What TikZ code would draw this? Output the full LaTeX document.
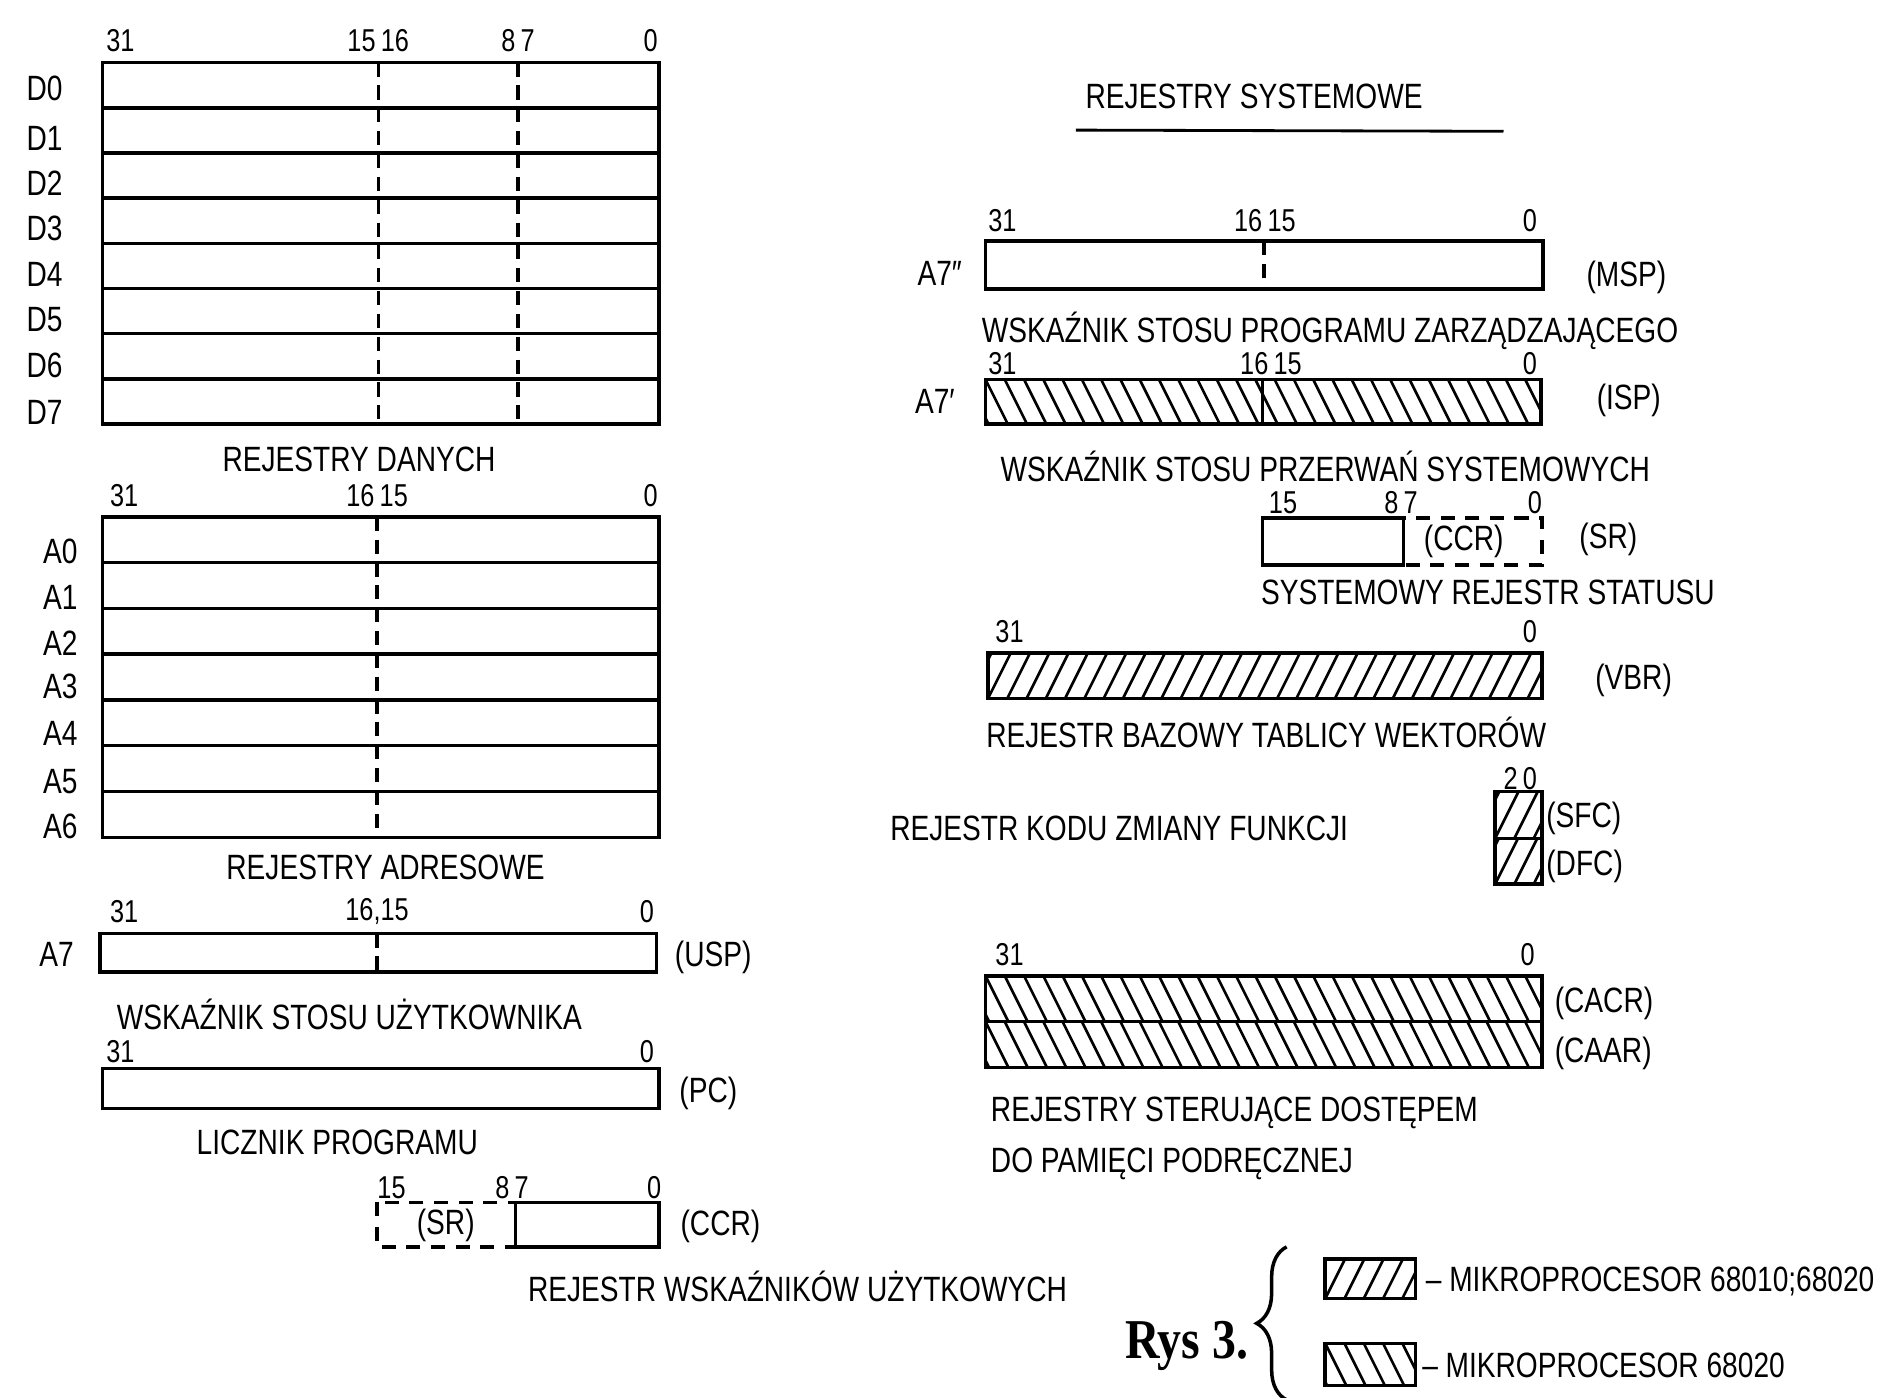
\documentclass[tikz,border=0pt]{standalone}
\usepackage{fontspec}
\setmainfont[FakeStretch=0.8]{Liberation Sans}
\newfontfamily\rysfont[FakeStretch=0.85]{Liberation Serif}
\usetikzlibrary{decorations.pathreplacing}

\tikzset{
  regbox/.style={line width=1pt},
  divline/.style={line width=1pt, dash pattern=on 4pt off 2.5pt},
  boxdash/.style={line width=1pt, dash pattern=on 4pt off 3pt},
  hatchline/.style={line width=0.75pt},
  bitnum/.style={font=\fontsize{9}{10}\selectfont, inner sep=0pt},
  txt/.style={font=\fontsize{10}{12}\selectfont, inner sep=0pt},
}

% hatching: #1,#2 upper left, #3,#4 lower right
\newcommand\hatchne[4]{%
  \begin{scope}
    \clip (#1,#2) rectangle (#3,#4);
    \foreach \k in {-3,...,34}
      \draw[hatchline] ({#1+16*\k},#4) -- ++({0.5*(#4-#2)},{#2-#4});
  \end{scope}}
\newcommand\hatchnw[4]{%
  \begin{scope}
    \clip (#1,#2) rectangle (#3,#4);
    \foreach \k in {-3,...,34}
      \draw[hatchline] ({#1+16*\k},#2) -- ++({0.5*(#4-#2)},{#4-#2});
  \end{scope}}

\begin{document}
\begin{tikzpicture}[x=0.12047mm,y=-0.12047mm]
\useasboundingbox (0,0) rectangle (1568,1160);

% rejestry danych
\node[bitnum] (dbit31) at (100,34) {31};
\node[bitnum] (dbit15) at (314,34) {15\,16};
\node[bitnum] (dbit8) at (430,34) {8\,7};
\node[bitnum] (dbit0) at (540,34) {0};
\draw[regbox] (85,52) rectangle (547,352);
\foreach \y in {89.5,127,164.5,202,239.5,277,314.5}
  \draw[regbox] (85,\y) -- (547,\y);
\draw[divline] (314,52) -- (314,352);
\draw[divline] (430,52) -- (430,352);
\foreach \n/\y in {0/73,1/115,2/152,3/190,4/228,5/265,6/303,7/342}
  \node[txt] (dreg\n) at (37,\y) {D\n};
\node[txt] (dane) at (298,381) {REJESTRY DANYCH};

% rejestry adresowe
\node[bitnum] (abit31) at (103,411) {31};
\node[bitnum] (abit16) at (313,411) {16\,15};
\node[bitnum] (abit0) at (540,411) {0};
\draw[regbox] (85,429) rectangle (547,695);
\foreach \y in {467,505,543,581,619,657}
  \draw[regbox] (85,\y) -- (547,\y);
\draw[divline] (313,429) -- (313,695);
\foreach \n/\y in {0/458,1/496,2/534,3/570,4/609,5/649,6/686}
  \node[txt] (areg\n) at (50,\y) {A\n};
\node[txt] (adres) at (320,720) {REJESTRY ADRESOWE};

% A7 (USP)
\node[bitnum] (ubit31) at (103,757) {31};
\node[bitnum] (ubit16) at (313,757) {16,15};
\node[bitnum] (ubit0) at (537,757) {0};
\draw[regbox] (83,775) rectangle (545,807);
\draw[divline] (313,775) -- (313,807);
\node[txt] (a7) at (47,792) {A7};
\node[txt] (usp) at (592,795) {(USP)};
\node[txt] (usptxt) at (290,842) {WSKAŹNIK STOSU UŻYTKOWNIKA};

% PC
\node[bitnum] (pbit31) at (100,873) {31};
\node[bitnum] (pbit0) at (537,873) {0};
\draw[regbox] (85,887) rectangle (547,920);
\node[txt] (pc) at (588,908) {(PC)};
\node[txt] (pctxt) at (280,948) {LICZNIK PROGRAMU};

% CCR
\node[bitnum] (cbit15) at (325,986) {15};
\node[bitnum] (cbit8) at (425,986) {8\,7};
\node[bitnum] (cbit0) at (543,986) {0};
\draw[boxdash] (313,998) rectangle (428,1035);
\draw[regbox] (428,998) rectangle (547,1035);
\node[txt] (srin) at (370,1017) {(SR)};
\node[txt] (ccr) at (598,1018) {(CCR)};
\node[txt] (ccrtxt) at (662,1068) {REJESTR WSKAŹNIKÓW UŻYTKOWYCH};

% rejestry systemowe
\node[txt] (systitle) at (1041,80) {REJESTRY SYSTEMOWE};
\draw[line width=0.8pt] (893,108) -- (1248,109);

% MSP
\node[bitnum] (mbit31) at (832,183) {31};
\node[bitnum] (mbit16) at (1050,183) {16\,15};
\node[bitnum] (mbit0) at (1270,183) {0};
\draw[regbox] (818,200) rectangle (1281,240);
\draw[divline] (1049,200) -- (1049,240);
\node[txt] (a7bis) at (780,227) {A7\char"2033};
\node[txt] (msp) at (1350,230) {(MSP)};
\node[txt] (msptxt) at (1104,275) {WSKAŹNIK STOSU PROGRAMU ZARZĄDZAJĄCEGO};

% ISP
\node[bitnum] (ibit31) at (832,302) {31};
\node[bitnum] (ibit16) at (1055,302) {16\,15};
\node[bitnum] (ibit0) at (1270,302) {0};
\hatchnw{818}{315}{1279}{352}
\draw[regbox] (818,315) rectangle (1279,352);
\draw[hatchline] (1048,315) -- (1048,352);
\node[txt] (a7prim) at (776,333) {A7\char"2032};
\node[txt] (isp) at (1352,332) {(ISP)};
\node[txt] (isptxt) at (1100,387) {WSKAŹNIK STOSU PRZERWAŃ SYSTEMOWYCH};

% SR
\node[bitnum] (sbit15) at (1065,417) {15};
\node[bitnum] (sbit8) at (1163,417) {8\,7};
\node[bitnum] (sbit0) at (1274,417) {0};
\draw[regbox] (1048,430) rectangle (1165,469);
\draw[boxdash] (1165,430) rectangle (1280,469);
\node[txt] (ccrin) at (1215,449) {(CCR)};
\node[txt] (sr) at (1335,448) {(SR)};
\node[txt] (srtxt) at (1235,492) {SYSTEMOWY REJESTR STATUSU};

% VBR
\node[bitnum] (vbit31) at (838,524) {31};
\node[bitnum] (vbit0) at (1270,524) {0};
\hatchne{820}{542}{1280}{580}
\draw[regbox] (820,542) rectangle (1280,580);
\node[txt] (vbr) at (1356,565) {(VBR)};
\node[txt] (vbrtxt) at (1051,608) {REJESTR BAZOWY TABLICY WEKTORÓW};

% SFC, DFC
\node[bitnum] (fbit) at (1262,646) {2\,0};
\hatchne{1241}{657}{1280}{696}
\hatchne{1241}{696}{1280}{734}
\draw[regbox] (1241,657) rectangle (1280,734);
\draw[regbox] (1241,696) -- (1280,696);
\node[txt, anchor=west] (sfc) at (1283,679) {(SFC)};
\node[txt, anchor=west] (dfc) at (1283,719) {(DFC)};
\node[txt] (fctxt) at (929,688) {REJESTR KODU ZMIANY FUNKCJI};

% CACR, CAAR
\node[bitnum] (kbit31) at (838,792) {31};
\node[bitnum] (kbit0) at (1268,792) {0};
\hatchnw{818}{810}{1280}{848}
\hatchnw{818}{848}{1280}{886}
\draw[regbox] (818,810) rectangle (1280,886);
\draw[regbox] (818,848) -- (1280,848);
\node[txt, anchor=west] (cacr) at (1290,833) {(CACR)};
\node[txt, anchor=west] (caar) at (1290,874) {(CAAR)};
\node[txt, anchor=west] (cachtxt) at (822,924) {REJESTRY STERUJĄCE DOSTĘPEM};
\node[txt, anchor=west] (cachtxt2) at (822,966) {DO PAMIĘCI PODRĘCZNEJ};

% legenda
\node[font=\rysfont\bfseries\fontsize{16}{18}\selectfont] (rys) at (985,1117) {Rys 3.};
\draw[line width=1pt, decorate, decoration={brace, amplitude=3mm}]
  (1068,1162) -- (1068,1035);
\hatchne{1100}{1045}{1175}{1078}
\draw[regbox] (1100,1045) rectangle (1175,1078);
\node[txt, anchor=west] (leg1) at (1183,1064) {\textendash{} MIKROPROCESOR 68010;68020};
\hatchnw{1100}{1115}{1175}{1150}
\draw[regbox] (1100,1115) rectangle (1175,1150);
\node[txt, anchor=west] (leg2) at (1180,1133) {\textendash{} MIKROPROCESOR 68020};
\end{tikzpicture}
\end{document}
